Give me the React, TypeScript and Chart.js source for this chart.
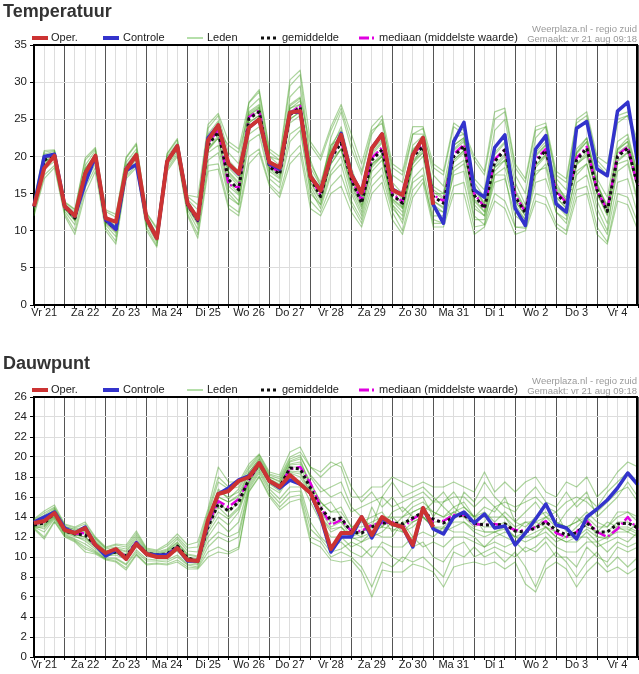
import { useEffect, useRef } from 'react';
import { Chart, registerables } from 'chart.js';

Chart.register(...registerables);

// ---------- categories ----------
const DAY_LABELS = ['Vr 21', 'Za 22', 'Zo 23', 'Ma 24', 'Di 25', 'Wo 26', 'Do 27', 'Vr 28', 'Za 29', 'Zo 30', 'Ma 31', 'Di 1', 'Wo 2', 'Do 3', 'Vr 4'];
// 6-hourly steps, starting Vr 21 06:00, ending Vr 4 24:00
const STEP_COUNT = 60;

// ---------- Temperatuur ----------
const T_OPER = [
  13.3, 18.4, 20.1, 13.3, 12.0, 17.7, 20.1, 11.7, 11.2, 18.2,
  20.2, 11.6, 9.0, 19.3, 21.4, 13.7, 11.6, 22.2, 24.2, 19.0,
  17.7, 23.9, 25.0, 19.2, 18.5, 25.9, 26.1, 17.3, 15.4, 20.0,
  22.9, 17.5, 15.1, 21.1, 23.0, 15.5, 14.8, 20.2, 22.5, 13.5,
];
const T_CTRL = [
  13.3, 20.0, 20.3, 13.3, 12.0, 16.4, 20.0, 11.5, 10.2, 18.1,
  18.9, 11.6, 9.0, 19.3, 21.4, 13.7, 11.5, 22.5, 24.2, 19.0,
  17.6, 23.9, 25.0, 19.0, 18.3, 25.9, 26.1, 17.3, 15.5, 19.8,
  23.1, 17.6, 15.1, 21.1, 23.0, 15.6, 14.8, 20.2, 22.5, 13.5,
  11.0, 22.0, 24.6, 15.5, 14.5, 21.2, 22.9, 13.0, 10.7, 21.0,
  22.8, 13.6, 12.5, 23.8, 24.7, 18.3, 17.4, 26.1, 27.3, 18.9,
];
const T_MEAN = [
  13.2, 19.5, 20.2, 13.2, 11.7, 17.8, 20.0, 11.4, 10.2, 18.4,
  20.1, 11.5, 9.0, 19.4, 21.3, 13.5, 11.4, 21.5, 23.3, 16.9,
  15.5, 25.1, 26.0, 18.6, 17.6, 25.6, 26.6, 17.1, 14.6, 19.8,
  21.8, 16.9, 13.7, 19.5, 20.9, 14.8, 13.7, 20.0, 21.3, 14.6,
  13.7, 20.0, 21.4, 14.8, 13.0, 19.3, 20.9, 14.6, 12.4, 19.3,
  20.8, 15.1, 13.5, 19.5, 21.1, 15.5, 12.6, 20.0, 21.1, 16.0,
];
const T_MEDIAN = [
  13.2, 19.8, 20.3, 13.1, 11.8, 17.9, 20.1, 11.3, 10.1, 18.5,
  20.2, 11.6, 9.0, 19.5, 21.4, 13.5, 11.3, 21.8, 23.6, 16.2,
  15.8, 25.3, 26.2, 18.8, 17.8, 25.8, 26.8, 17.2, 14.8, 20.0,
  22.0, 17.1, 14.0, 19.8, 21.2, 15.0, 13.9, 20.3, 21.6, 14.8,
  14.0, 20.3, 21.6, 15.0, 13.2, 19.6, 21.0, 14.8, 12.5, 19.6,
  21.0, 15.3, 13.8, 19.8, 21.3, 15.4, 12.8, 20.2, 21.3, 15.8,
];
const T_MEMBER_A = [
  14.2, 20.8, 20.9, 13.8, 12.8, 19.5, 21.0, 12.6, 11.8, 19.8,
  21.6, 12.3, 10.2, 20.3, 22.2, 14.6, 13.5, 23.8, 25.5, 20.5,
  19.0, 27.2, 28.7, 20.6, 19.5, 29.5, 31.0, 19.5, 16.0, 21.0,
  24.0, 18.5, 14.5, 21.0, 23.0, 16.0, 13.0, 19.0, 20.5, 13.5,
  12.5, 19.5, 20.8, 13.5, 12.0, 18.0, 19.5, 13.5, 11.5, 18.5,
  20.0, 14.0, 12.5, 20.5, 22.5, 17.0, 14.5, 22.0, 23.0, 17.5,
];
const T_MEMBER_B = [
  12.3, 17.5, 18.8, 12.3, 10.0, 15.8, 18.5, 10.4, 8.6, 17.3,
  18.8, 10.4, 8.0, 18.3, 20.3, 12.3, 9.5, 18.8, 19.0, 13.5,
  12.5, 20.0, 21.0, 16.3, 15.0, 20.0, 21.5, 14.0, 12.5, 16.0,
  17.5, 13.5, 11.0, 16.0, 17.5, 12.5, 10.0, 15.5, 17.0, 11.5,
  11.0, 16.0, 16.5, 10.5, 10.8, 15.0, 14.0, 10.5, 10.3, 15.0,
  14.5, 11.0, 10.0, 15.5, 16.0, 10.5, 8.5, 15.0, 14.5, 11.0,
];
const T_MEMBER_C = [
  13.5, 20.0, 20.5, 13.5, 12.2, 18.3, 20.4, 11.8, 10.6, 18.8,
  20.6, 11.8, 9.3, 19.7, 21.6, 13.9, 12.0, 22.3, 24.3, 18.0,
  16.5, 25.8, 26.8, 19.2, 18.3, 26.8, 27.8, 18.0, 15.2, 20.5,
  22.8, 17.8, 14.2, 20.2, 21.8, 15.5, 14.5, 21.0, 22.2, 15.5,
  14.5, 21.0, 22.3, 15.8, 13.8, 20.5, 22.0, 15.5, 13.0, 20.0,
  21.5, 15.8, 14.2, 20.5, 22.0, 16.0, 13.5, 21.0, 22.0, 17.0,
];
const T_MEMBER_D = [
  12.9, 19.0, 19.8, 12.9, 11.3, 17.2, 19.6, 11.0, 9.7, 17.9,
  19.6, 11.2, 8.7, 19.0, 20.9, 13.1, 10.8, 20.8, 22.5, 16.0,
  14.8, 24.2, 25.0, 18.0, 17.0, 24.5, 25.5, 16.5, 14.0, 19.0,
  21.0, 16.0, 13.0, 18.8, 20.0, 14.2, 13.0, 19.3, 20.5, 14.0,
  13.0, 19.2, 20.5, 14.0, 12.5, 18.5, 20.0, 14.0, 12.0, 18.8,
  20.2, 14.5, 13.0, 18.8, 20.3, 15.0, 12.0, 19.3, 20.5, 15.5,
];
const T_MEMBER_E = [
  13.4, 19.8, 20.4, 13.3, 12.0, 18.0, 20.2, 11.5, 10.4, 18.5,
  20.3, 11.6, 9.1, 19.5, 21.5, 13.6, 11.6, 21.8, 23.8, 17.5,
  16.0, 25.5, 26.5, 19.0, 18.0, 26.0, 27.0, 17.5, 15.5, 22.5,
  26.0, 21.0, 17.5, 23.0, 25.0, 17.5, 16.5, 23.0, 23.8, 17.5,
  16.0, 22.5, 23.0, 17.0, 15.5, 23.5, 25.0, 17.5, 15.0, 22.5,
  24.0, 17.0, 15.5, 23.5, 25.0, 19.0, 17.5, 24.5, 25.5, 20.5,
];
const T_MEMBER_F = [
  13.0, 19.3, 20.0, 13.0, 11.5, 17.5, 19.8, 11.2, 10.0, 18.2,
  19.9, 11.4, 8.9, 19.2, 21.1, 13.3, 11.0, 20.5, 21.5, 15.0,
  13.5, 23.0, 24.0, 17.5, 16.5, 23.0, 24.0, 15.5, 13.0, 17.5,
  19.0, 14.0, 11.5, 17.0, 18.5, 13.0, 11.5, 17.0, 18.5, 12.0,
  12.0, 17.5, 18.0, 11.5, 11.5, 16.5, 17.0, 12.0, 11.0, 16.5,
  17.0, 12.5, 11.0, 16.5, 17.5, 12.0, 9.5, 16.5, 17.0, 12.0,
];
const T_MEMBER_G = [
  13.6, 20.3, 20.7, 13.6, 12.5, 18.8, 20.8, 12.0, 11.0, 19.2,
  21.0, 12.0, 9.6, 20.0, 21.8, 14.2, 12.8, 23.0, 24.8, 19.5,
  18.0, 26.5, 27.8, 20.0, 18.8, 28.0, 29.5, 19.0, 16.5, 21.5,
  23.5, 18.0, 15.0, 20.5, 22.0, 16.5, 15.0, 21.5, 22.8, 16.0,
  15.0, 21.5, 22.5, 16.5, 14.5, 21.0, 23.0, 16.5, 13.5, 21.0,
  22.5, 16.0, 14.5, 21.0, 22.5, 16.5, 13.0, 20.5, 21.5, 16.5,
];
const T_MEMBER_H = [
  12.7, 18.3, 19.3, 12.6, 10.8, 16.5, 19.0, 10.8, 9.2, 17.6,
  19.2, 10.9, 8.4, 18.7, 20.6, 12.8, 10.2, 19.5, 20.5, 14.5,
  13.5, 22.0, 23.0, 17.0, 15.8, 22.0, 23.5, 15.0, 13.5, 18.0,
  20.0, 15.0, 12.0, 18.0, 19.5, 13.5, 12.0, 18.5, 20.0, 13.0,
  12.5, 18.5, 19.5, 13.0, 12.0, 17.5, 18.5, 13.0, 11.5, 17.5,
  19.0, 13.5, 12.0, 17.5, 19.0, 14.0, 11.0, 18.0, 19.0, 13.5,
];
const T_MEMBER_I = [
  13.3, 19.6, 20.3, 13.2, 11.8, 17.9, 20.1, 11.4, 10.3, 18.4,
  20.1, 11.5, 9.0, 19.4, 21.3, 13.5, 11.4, 21.5, 23.5, 21.5,
  20.5, 26.0, 27.0, 20.0, 19.5, 27.0, 28.0, 21.5, 19.5, 23.5,
  26.5, 22.0, 18.0, 23.5, 24.5, 18.5, 17.5, 23.0, 23.0, 18.5,
  17.5, 24.0, 23.0, 19.5, 17.5, 25.0, 26.0, 18.5, 16.5, 23.5,
  24.0, 17.5, 16.5, 24.5, 25.5, 19.5, 18.0, 25.0, 25.5, 21.5,
];
const T_MEMBER_J = [
  13.1, 19.4, 20.1, 13.1, 11.6, 17.7, 19.9, 11.3, 10.1, 18.3,
  20.0, 11.4, 8.9, 19.3, 21.2, 13.4, 11.2, 21.0, 22.5, 15.5,
  14.0, 24.5, 25.5, 18.5, 17.5, 25.0, 26.0, 16.0, 13.5, 19.5,
  21.0, 15.5, 12.5, 19.0, 20.0, 13.5, 11.0, 16.5, 17.5, 11.0,
  11.0, 18.0, 19.0, 12.0, 10.8, 17.5, 17.5, 10.5, 10.5, 18.0,
  18.5, 12.5, 11.5, 18.0, 19.0, 13.0, 10.0, 19.0, 19.5, 14.0,
];
const T_MEMBER_K = [
  13.8, 20.6, 20.8, 13.9, 12.9, 19.8, 21.2, 12.8, 12.2, 19.9,
  21.8, 12.4, 10.4, 20.4, 22.4, 14.8, 14.5, 24.3, 25.8, 22.0,
  21.0, 27.3, 29.0, 21.0, 20.0, 30.3, 31.6, 22.0, 20.0, 24.0,
  27.0, 23.0, 19.0, 24.0, 25.5, 19.0, 18.0, 24.0, 24.0, 19.0,
  18.0, 24.5, 23.5, 20.0, 18.0, 26.0, 26.5, 19.0, 17.0, 24.0,
  24.5, 18.0, 17.0, 25.0, 26.0, 20.0, 19.0, 25.5, 26.0, 22.0,
];
const T_MEMBER_L = [
  12.0, 17.0, 18.5, 12.0, 9.5, 15.0, 18.0, 10.0, 8.2, 17.0,
  18.5, 10.0, 7.8, 18.0, 20.0, 12.0, 9.0, 18.0, 18.3, 13.0,
  12.0, 19.0, 20.5, 16.0, 14.5, 19.0, 20.5, 13.0, 12.0, 15.0,
  16.0, 12.5, 10.5, 15.0, 16.5, 11.5, 9.5, 14.5, 16.5, 10.5,
  10.5, 15.0, 15.0, 9.5, 10.5, 14.0, 13.0, 9.5, 10.0, 14.0,
  13.5, 10.5, 9.5, 14.5, 15.0, 9.5, 8.2, 14.0, 13.5, 10.0,
];
const T_MEMBER_M = [
  13.4, 19.9, 20.5, 13.4, 12.1, 18.2, 20.3, 11.7, 10.5, 18.7,
  20.4, 11.7, 9.2, 19.6, 21.5, 13.8, 11.8, 22.0, 24.0, 17.8,
  16.3, 25.6, 26.6, 19.0, 18.0, 26.4, 27.5, 17.8, 15.0, 20.8,
  23.0, 17.5, 14.5, 20.8, 22.3, 15.8, 14.2, 20.8, 22.0, 15.2,
  14.3, 20.8, 22.0, 15.5, 13.5, 20.2, 21.8, 15.2, 12.8, 20.2,
  21.6, 15.6, 13.8, 20.3, 22.0, 16.2, 13.2, 20.8, 22.0, 16.8,
];
const T_MEMBER_N = [
  13.1, 19.2, 20.0, 13.0, 11.4, 17.4, 19.7, 11.1, 9.9, 18.0,
  19.8, 11.3, 8.8, 19.1, 21.0, 13.2, 11.1, 21.0, 22.8, 16.5,
  15.0, 24.6, 25.5, 18.3, 17.2, 25.0, 26.0, 16.6, 14.3, 19.0,
  21.0, 16.3, 13.3, 19.0, 20.3, 14.3, 13.2, 19.5, 20.8, 14.0,
  13.2, 19.5, 20.8, 14.3, 12.6, 18.8, 20.3, 14.0, 12.0, 18.8,
  20.3, 14.6, 13.0, 19.0, 20.6, 15.0, 12.2, 19.5, 20.6, 15.5,
];
const T_MEMBER_O = [
  13.3, 19.7, 20.2, 13.2, 11.9, 18.4, 20.2, 11.6, 10.3, 18.6,
  20.5, 11.4, 9.1, 19.6, 21.4, 13.7, 11.9, 22.5, 24.5, 18.5,
  17.0, 25.3, 26.0, 19.5, 18.5, 26.5, 27.0, 18.5, 16.0, 21.5,
  22.5, 17.0, 13.5, 18.5, 20.0, 14.0, 12.5, 19.0, 21.5, 15.0,
  15.0, 21.5, 22.5, 16.0, 13.5, 18.5, 19.5, 14.0, 13.0, 20.5,
  22.0, 16.5, 14.0, 19.0, 20.0, 15.0, 12.5, 21.0, 22.5, 17.5,
];

// ---------- Dauwpunt ----------
const D_OPER = [
  13.4, 13.6, 14.4, 12.7, 12.4, 12.9, 11.2, 10.4, 10.8, 9.8,
  11.3, 10.3, 10.0, 10.0, 10.9, 9.7, 9.6, 13.7, 16.3, 16.6,
  17.6, 18.0, 19.4, 17.6, 17.0, 18.2, 17.3, 16.4, 14.2, 10.8,
  12.4, 12.4, 14.0, 12.2, 14.0, 13.3, 13.0, 11.2, 14.9, 13.0,
];
const D_CTRL = [
  13.5, 14.0, 14.5, 12.9, 12.4, 13.0, 11.2, 10.1, 10.7, 9.8,
  11.4, 10.3, 10.2, 10.2, 10.9, 9.6, 9.6, 13.5, 16.3, 16.9,
  17.7, 18.1, 19.4, 17.6, 16.9, 17.7, 17.3, 16.4, 14.0, 10.5,
  12.0, 12.0, 14.0, 11.9, 13.8, 13.3, 13.0, 11.0, 14.9, 12.8,
  12.3, 14.0, 14.5, 13.4, 14.3, 12.9, 13.1, 11.2, 12.4, 13.8,
  15.3, 13.2, 12.9, 11.8, 14.0, 14.8, 15.7, 16.9, 18.4, 17.2,
];
const D_MEAN = [
  13.2, 13.4, 14.4, 12.6, 12.3, 12.2, 11.2, 10.3, 10.5, 10.1,
  11.4, 10.4, 10.2, 10.3, 11.1, 9.9, 9.6, 13.0, 15.3, 14.6,
  15.5, 17.8, 19.3, 17.6, 17.0, 18.9, 18.8, 16.9, 14.9, 13.7,
  13.9, 12.5, 12.4, 13.0, 13.4, 13.4, 13.3, 13.9, 14.5, 13.8,
  13.4, 14.0, 14.2, 13.4, 13.2, 13.2, 13.3, 12.6, 12.5, 12.9,
  13.5, 12.7, 12.2, 12.4, 13.4, 12.5, 12.5, 13.3, 13.4, 12.9,
];
const D_MEDIAN = [
  13.3, 13.5, 14.4, 12.7, 12.3, 12.4, 11.1, 10.3, 10.6, 10.1,
  11.5, 10.3, 10.1, 10.3, 11.0, 9.8, 9.6, 13.2, 15.6, 15.0,
  15.8, 17.7, 19.3, 17.6, 17.1, 18.8, 19.0, 17.4, 15.0, 13.2,
  13.7, 12.6, 12.6, 13.2, 13.4, 13.5, 12.9, 13.8, 14.4, 13.6,
  13.6, 14.2, 14.2, 13.3, 13.2, 13.3, 13.1, 12.7, 12.6, 13.0,
  13.6, 12.4, 12.0, 12.5, 13.6, 12.5, 12.0, 12.8, 14.0, 12.7,
];
const D_MEMBER_A = [
  13.8, 14.6, 15.2, 13.3, 13.0, 13.5, 12.0, 11.0, 11.3, 11.2,
  12.6, 10.9, 10.7, 11.3, 12.3, 11.2, 11.5, 14.8, 19.0, 17.5,
  17.5, 19.3, 20.3, 18.5, 18.2, 20.5, 21.0, 19.0, 18.0, 19.0,
  19.5, 17.0, 15.5, 16.5, 15.0, 16.0, 14.5, 15.5, 16.0, 14.0,
  15.5, 16.5, 15.0, 14.0, 15.0, 14.5, 16.0, 13.5, 14.5, 15.5,
  14.0, 13.0, 14.5, 15.5, 16.5, 14.0, 15.0, 16.0, 17.5, 16.0,
];
const D_MEMBER_B = [
  12.9, 12.0, 13.6, 12.1, 11.6, 10.8, 10.4, 9.8, 9.6, 8.9,
  10.3, 9.3, 9.4, 9.3, 9.7, 9.0, 8.9, 10.5, 11.0, 10.5,
  11.0, 16.6, 18.1, 16.2, 15.0, 16.0, 16.2, 12.0, 11.5, 10.0,
  10.5, 10.0, 9.0, 7.0, 9.5, 9.0, 10.0, 9.5, 10.0, 9.0,
  8.0, 10.5, 10.0, 11.0, 10.0, 10.5, 9.5, 10.5, 9.0, 7.0,
  9.5, 10.5, 9.5, 8.0, 9.5, 10.5, 9.0, 10.0, 9.0, 10.0,
];
const D_MEMBER_C = [
  13.4, 13.7, 14.6, 12.8, 12.5, 12.6, 11.4, 10.5, 10.7, 10.3,
  11.6, 10.5, 10.3, 10.5, 11.2, 10.0, 9.8, 13.5, 16.5, 16.0,
  16.5, 18.3, 19.6, 17.8, 17.3, 19.3, 19.5, 17.5, 15.5, 14.5,
  15.0, 13.0, 13.5, 14.0, 14.5, 13.0, 14.0, 15.0, 15.5, 14.5,
  14.0, 15.0, 15.5, 14.0, 14.5, 13.5, 14.5, 13.5, 13.0, 14.0,
  14.5, 13.5, 13.0, 13.5, 14.5, 13.5, 13.0, 14.5, 14.5, 14.0,
];
const D_MEMBER_D = [
  13.0, 13.1, 14.1, 12.4, 12.0, 11.8, 11.0, 10.1, 10.2, 9.8,
  11.1, 10.2, 10.0, 10.0, 10.8, 9.7, 9.4, 12.4, 14.0, 13.2,
  14.5, 17.4, 19.0, 17.3, 16.6, 18.4, 18.0, 16.2, 14.0, 12.5,
  13.0, 12.0, 11.5, 12.0, 12.5, 13.5, 12.5, 13.0, 14.0, 13.0,
  12.5, 13.0, 13.5, 12.5, 12.0, 12.5, 12.0, 11.5, 12.0, 12.0,
  13.0, 12.0, 11.5, 11.5, 12.5, 11.5, 12.0, 12.5, 12.5, 12.0,
];
const D_MEMBER_E = [
  13.3, 13.9, 14.8, 13.0, 12.8, 13.0, 11.8, 10.8, 11.0, 10.8,
  12.2, 10.7, 10.5, 10.8, 11.8, 10.6, 10.5, 14.2, 17.5, 16.8,
  17.0, 18.8, 20.0, 18.2, 17.8, 19.8, 20.2, 18.0, 16.5, 17.0,
  17.5, 15.0, 14.0, 13.0, 16.0, 17.5, 16.0, 16.5, 17.0, 16.0,
  15.0, 14.0, 16.5, 15.5, 17.5, 16.0, 15.0, 14.5, 16.0, 17.0,
  15.5, 15.0, 16.5, 15.0, 16.0, 15.0, 16.5, 17.5, 18.5, 17.5,
];
const D_MEMBER_F = [
  13.1, 12.8, 13.9, 12.3, 11.8, 11.3, 10.6, 9.9, 9.9, 9.3,
  10.7, 9.8, 9.7, 9.7, 10.2, 9.3, 9.2, 11.5, 12.5, 12.0,
  12.5, 17.0, 18.6, 16.8, 15.8, 17.0, 17.0, 13.5, 12.0, 11.0,
  11.5, 10.5, 10.0, 11.0, 11.0, 10.0, 9.5, 11.0, 11.5, 10.0,
  9.5, 11.0, 11.5, 10.0, 10.5, 11.0, 10.5, 10.0, 11.0, 10.5,
  11.5, 10.0, 10.0, 9.0, 11.0, 10.0, 9.5, 11.0, 10.5, 11.0,
];
const D_MEMBER_G = [
  13.6, 14.2, 14.9, 13.1, 12.7, 12.9, 11.6, 10.6, 10.9, 10.6,
  12.0, 10.6, 10.4, 10.7, 11.5, 10.3, 10.1, 13.8, 16.0, 15.5,
  16.0, 18.5, 19.8, 18.0, 17.5, 19.5, 19.8, 17.0, 15.0, 15.5,
  14.0, 12.5, 12.0, 15.0, 13.0, 14.5, 15.0, 14.0, 14.5, 15.5,
  16.5, 15.0, 14.0, 13.0, 13.5, 15.0, 14.0, 12.5, 13.5, 13.0,
  14.0, 14.5, 12.5, 14.0, 13.0, 12.5, 13.5, 13.0, 12.5, 13.5,
];
const D_MEMBER_H = [
  12.9, 13.0, 14.0, 12.5, 12.1, 11.6, 10.8, 10.0, 10.4, 9.9,
  11.2, 10.1, 9.9, 10.1, 10.6, 9.5, 9.3, 12.0, 13.5, 12.5,
  13.5, 17.2, 18.8, 17.0, 16.4, 18.0, 17.6, 15.5, 13.5, 12.0,
  12.0, 11.0, 11.5, 12.5, 12.0, 12.0, 13.5, 12.0, 12.5, 12.0,
  13.0, 12.5, 12.5, 12.0, 11.0, 12.0, 12.5, 12.0, 11.5, 12.0,
  12.5, 11.5, 12.0, 12.0, 12.0, 11.0, 11.5, 12.0, 11.5, 12.5,
];
const D_MEMBER_I = [
  13.5, 13.5, 14.5, 12.7, 12.4, 12.4, 11.3, 10.4, 10.6, 10.1,
  11.4, 10.4, 10.1, 10.3, 11.0, 9.9, 9.7, 13.0, 15.5, 14.5,
  15.5, 18.0, 19.3, 17.6, 17.0, 19.0, 19.0, 16.8, 14.5, 13.5,
  13.5, 12.5, 12.5, 13.0, 13.0, 14.0, 13.0, 14.5, 15.0, 13.5,
  13.5, 14.5, 14.0, 13.5, 13.0, 13.0, 13.5, 12.5, 12.5, 13.0,
  13.5, 12.5, 12.0, 12.5, 13.5, 12.5, 12.5, 13.5, 13.5, 13.0,
];
const D_MEMBER_J = [
  13.2, 13.3, 14.3, 12.6, 12.2, 12.0, 11.1, 10.2, 10.4, 10.0,
  11.3, 10.3, 10.2, 10.2, 11.0, 9.8, 9.6, 13.0, 15.0, 14.0,
  15.0, 17.6, 19.1, 17.4, 16.9, 18.6, 18.5, 16.5, 14.5, 13.0,
  13.5, 12.0, 12.5, 13.0, 14.0, 12.5, 13.5, 13.5, 14.0, 13.0,
  13.0, 14.0, 14.5, 14.0, 12.5, 12.5, 13.0, 12.0, 12.5, 13.5,
  13.0, 12.5, 12.0, 13.0, 14.0, 12.0, 12.0, 13.0, 13.0, 12.5,
];
const D_MEMBER_K = [
  13.7, 14.4, 15.0, 13.2, 12.9, 13.3, 11.9, 10.9, 11.2, 11.0,
  12.4, 10.8, 10.6, 11.1, 12.0, 10.9, 11.0, 14.5, 18.0, 17.0,
  17.3, 19.0, 20.2, 18.3, 18.0, 20.0, 20.5, 19.0, 18.5, 19.5,
  19.0, 16.0, 16.0, 17.0, 17.0, 18.0, 17.5, 17.0, 17.5, 17.0,
  17.0, 17.5, 17.0, 16.5, 18.5, 16.5, 17.5, 16.5, 17.5, 18.0,
  16.5, 16.0, 17.5, 17.0, 18.0, 16.0, 17.0, 18.5, 19.5, 19.0,
];
const D_MEMBER_L = [
  12.8, 11.8, 13.5, 12.0, 11.5, 10.5, 10.3, 9.7, 9.5, 8.7,
  10.2, 9.2, 9.3, 9.2, 9.5, 8.8, 8.8, 10.0, 10.5, 10.3,
  10.8, 16.5, 18.0, 16.0, 14.7, 15.5, 15.8, 11.5, 11.0, 9.7,
  9.5, 9.7, 8.5, 6.0, 8.7, 8.5, 8.5, 9.3, 9.0, 8.5,
  7.0, 9.0, 9.3, 9.5, 9.2, 9.5, 8.8, 9.5, 7.3, 6.5,
  8.8, 9.5, 8.8, 7.0, 8.5, 9.5, 8.5, 9.0, 8.3, 9.0,
];
const D_MEMBER_M = [
  13.3, 13.6, 14.5, 12.7, 12.4, 12.5, 11.3, 10.4, 10.6, 10.2,
  11.5, 10.4, 10.2, 10.4, 11.2, 10.0, 9.7, 13.3, 16.0, 15.5,
  16.2, 18.0, 19.5, 17.8, 17.2, 19.2, 19.3, 17.3, 15.5, 14.5,
  14.5, 13.0, 13.0, 13.5, 14.0, 14.0, 14.0, 14.5, 15.0, 14.5,
  14.0, 14.5, 15.0, 14.0, 14.0, 14.0, 14.0, 13.0, 13.5, 13.5,
  14.0, 13.5, 13.0, 13.5, 14.0, 13.0, 13.0, 14.0, 14.5, 13.5,
];
const D_MEMBER_N = [
  13.1, 13.2, 14.2, 12.5, 12.2, 12.0, 11.0, 10.2, 10.4, 9.9,
  11.2, 10.2, 10.1, 10.2, 10.9, 9.8, 9.5, 12.7, 14.5, 13.8,
  14.8, 17.5, 19.1, 17.4, 16.8, 18.5, 18.3, 16.4, 14.0, 12.8,
  13.0, 11.8, 12.0, 12.5, 13.0, 12.8, 12.5, 13.5, 14.0, 13.0,
  12.8, 13.5, 13.5, 12.8, 12.5, 12.5, 12.8, 12.0, 12.0, 12.5,
  13.0, 12.0, 11.5, 12.0, 12.8, 12.0, 11.8, 12.8, 12.8, 12.3,
];
const D_MEMBER_O = [
  13.4, 13.8, 14.7, 12.9, 12.6, 12.8, 11.5, 10.6, 10.8, 10.5,
  11.8, 10.5, 10.3, 10.6, 11.4, 10.2, 10.0, 13.8, 16.8, 15.8,
  16.8, 18.5, 19.8, 18.0, 17.6, 19.6, 20.0, 18.2, 17.0, 16.0,
  16.5, 14.5, 15.0, 15.5, 16.0, 15.0, 15.5, 16.0, 16.5, 15.5,
  15.5, 16.0, 16.0, 15.0, 16.0, 15.0, 15.5, 15.0, 15.5, 16.0,
  15.0, 14.5, 15.5, 16.0, 15.5, 14.5, 15.5, 16.5, 17.0, 15.5,
];
const D_MEMBER_P = [
  13.0, 12.5, 13.8, 12.2, 11.7, 11.0, 10.5, 9.8, 9.8, 9.2,
  10.5, 9.6, 9.6, 9.5, 10.0, 9.2, 9.0, 11.0, 12.0, 11.5,
  12.0, 16.8, 18.4, 16.5, 15.4, 16.5, 16.6, 12.8, 11.8, 10.5,
  10.8, 11.5, 11.0, 10.0, 11.5, 11.0, 11.0, 12.0, 11.0, 11.5,
  11.0, 12.0, 12.0, 11.5, 11.0, 11.5, 11.0, 11.5, 10.5, 11.0,
  12.0, 11.0, 10.5, 10.5, 11.5, 11.5, 10.5, 11.5, 11.0, 11.5,
];

const LEGEND_LABELS = ['Oper.', 'Controle', 'Leden', 'gemiddelde', 'mediaan (middelste waarde)'];
const CREDIT_1 = 'Weerplaza.nl - regio zuid';
const CREDIT_2 = 'Gemaakt: vr 21 aug 09:18';

// ---------- styling ----------
const FONT = '"Liberation Sans", Arial, Helvetica, sans-serif';
const RED = '#cc3333';
const BLUE = '#3333cc';
const MEMBER_COLOR = 'rgba(60,155,25,0.42)';
const LEGEND_GREEN = '#9dd58e';
const MAGENTA = '#e000e0';
const MEAN_DASH = [3, 3];
const MEDIAN_DASH = [10, 3, 2, 3];

type Panel = {
  title: string;
  yMax: number;
  yStep: number;
  oper: number[];
  ctrl: number[];
  mean: number[];
  median: number[];
  members: number[][];
};

const TEMP_PANEL: Panel = {
  title: 'Temperatuur',
  yMax: 35,
  yStep: 5,
  oper: T_OPER,
  ctrl: T_CTRL,
  mean: T_MEAN,
  median: T_MEDIAN,
  members: [T_MEMBER_A, T_MEMBER_B, T_MEMBER_C, T_MEMBER_D, T_MEMBER_E, T_MEMBER_F, T_MEMBER_G, T_MEMBER_H, T_MEMBER_I, T_MEMBER_J, T_MEMBER_K, T_MEMBER_L, T_MEMBER_M, T_MEMBER_N, T_MEMBER_O],
};

const DEW_PANEL: Panel = {
  title: 'Dauwpunt',
  yMax: 26,
  yStep: 2,
  oper: D_OPER,
  ctrl: D_CTRL,
  mean: D_MEAN,
  median: D_MEDIAN,
  members: [D_MEMBER_A, D_MEMBER_B, D_MEMBER_C, D_MEMBER_D, D_MEMBER_E, D_MEMBER_F, D_MEMBER_G, D_MEMBER_H, D_MEMBER_I, D_MEMBER_J, D_MEMBER_K, D_MEMBER_L, D_MEMBER_M, D_MEMBER_N, D_MEMBER_O, D_MEMBER_P],
};

const decorPlugin = {
  id: 'decor',
  afterDraw(chart: any, _args: any, opts: any) {
    const { ctx, chartArea: a } = chart;
    ctx.save();
    // frame top + right
    ctx.setLineDash([]);
    ctx.strokeStyle = '#000';
    ctx.lineWidth = 2;
    ctx.beginPath();
    ctx.moveTo(a.left, a.top);
    ctx.lineTo(a.right - 1, a.top);
    ctx.lineTo(a.right - 1, a.bottom);
    ctx.stroke();

    // title
    ctx.fillStyle = '#333';
    ctx.font = `bold 18px ${FONT}`;
    ctx.textAlign = 'left';
    ctx.textBaseline = 'alphabetic';
    ctx.fillText(opts.title, 3, a.top - 28);

    // legend
    const ly = a.top - 7;
    const items = [
      { x0: 32, x1: 48, tx: 51, color: RED, w: 4, dash: [] as number[] },
      { x0: 103, x1: 119, tx: 123, color: BLUE, w: 4, dash: [] as number[] },
      { x0: 187, x1: 203, tx: 207, color: LEGEND_GREEN, w: 1.5, dash: [] as number[] },
      { x0: 261, x1: 276, tx: 282, color: '#111', w: 3, dash: MEAN_DASH },
      { x0: 359, x1: 375, tx: 379, color: MAGENTA, w: 3, dash: MEDIAN_DASH },
    ];
    ctx.font = `11px ${FONT}`;
    ctx.textBaseline = 'middle';
    items.forEach((it, i) => {
      ctx.strokeStyle = it.color;
      ctx.lineWidth = it.w;
      ctx.setLineDash(it.dash);
      ctx.beginPath();
      ctx.moveTo(it.x0, ly);
      ctx.lineTo(it.x1, ly);
      ctx.stroke();
      ctx.fillStyle = '#222';
      ctx.fillText(LEGEND_LABELS[i], it.tx, ly);
    });
    ctx.setLineDash([]);

    // credits
    ctx.fillStyle = '#9a9a9a';
    ctx.font = `9.5px ${FONT}`;
    ctx.textAlign = 'right';
    ctx.fillText(CREDIT_1, 637, a.top - 16);
    ctx.fillText(CREDIT_2, 637, a.top - 6);
    ctx.restore();
  },
};

function makeChart(canvas: HTMLCanvasElement, p: Panel, height: number) {
  const labels = Array.from({ length: STEP_COUNT }, (_, i) => String(i));
  const memberSets = p.members.map((m) => ({
    data: m,
    borderColor: MEMBER_COLOR,
    borderWidth: 1.2,
    order: 10,
  }));
  return new Chart(canvas, {
    type: 'line',
    data: {
      labels,
      datasets: [
        { data: p.oper, borderColor: RED, borderWidth: 4, order: 0 },
        { data: p.ctrl, borderColor: BLUE, borderWidth: 3.5, order: 1 },
        { data: p.mean, borderColor: '#111', borderWidth: 3, borderDash: MEAN_DASH, order: 2 },
        { data: p.median, borderColor: MAGENTA, borderWidth: 2.5, borderDash: MEDIAN_DASH, order: 3 },
        ...memberSets,
      ] as any,
    },
    options: {
      animation: false,
      responsive: false,
      events: [],
      layout: { padding: { top: 45, right: 1, left: 0, bottom: 0 } },
      elements: {
        point: { radius: 0 },
        line: { tension: 0, borderJoinStyle: 'round', fill: false },
      },
      plugins: {
        legend: { display: false },
        tooltip: { enabled: false },
        title: { display: false },
        decor: { title: p.title },
      } as any,
      scales: {
        x: {
          type: 'category',
          offset: false,
          grid: {
            color: (c: any) => (c.index % 4 === 3 ? '#555555' : '#dddddd'),
            lineWidth: 1,
            tickColor: '#000',
            tickLength: 3,
          },
          border: { color: '#000', width: 2 },
          ticks: {
            autoSkip: false,
            maxRotation: 0,
            minRotation: 0,
            padding: -2,
            color: '#222',
            font: { family: FONT, size: 11 },
            callback: (_v: any, i: number) => (i % 4 === 1 ? DAY_LABELS[(i - 1) / 4] : ''),
          },
          afterFit: (s: any) => {
            s.height = height - 305;
          },
        },
        y: {
          min: 0,
          max: p.yMax,
          grid: { color: '#dddddd', lineWidth: 1, tickColor: '#000', tickLength: 4 },
          border: { color: '#000', width: 2 },
          ticks: {
            stepSize: p.yStep,
            padding: 3,
            color: '#222',
            font: { family: FONT, size: 11.5 },
          },
          afterFit: (s: any) => {
            s.width = 34;
          },
        },
      },
    } as any,
    plugins: [decorPlugin],
  });
}

export default function App() {
  const ref1 = useRef<HTMLCanvasElement>(null);
  const ref2 = useRef<HTMLCanvasElement>(null);
  useEffect(() => {
    const c1 = makeChart(ref1.current!, TEMP_PANEL, 350);
    const c2 = makeChart(ref2.current!, DEW_PANEL, 322);
    return () => {
      c1.destroy();
      c2.destroy();
    };
  }, []);
  return (
    <div style={{ position: 'absolute', left: 0, top: 0, width: 639, height: 674, background: '#fff', overflow: 'hidden' }}>
      <canvas ref={ref1} width={639} height={350} style={{ position: 'absolute', left: 0, top: 0, width: 639, height: 350 }} />
      <canvas ref={ref2} width={639} height={322} style={{ position: 'absolute', left: 0, top: 352, width: 639, height: 322 }} />
    </div>
  );
}
